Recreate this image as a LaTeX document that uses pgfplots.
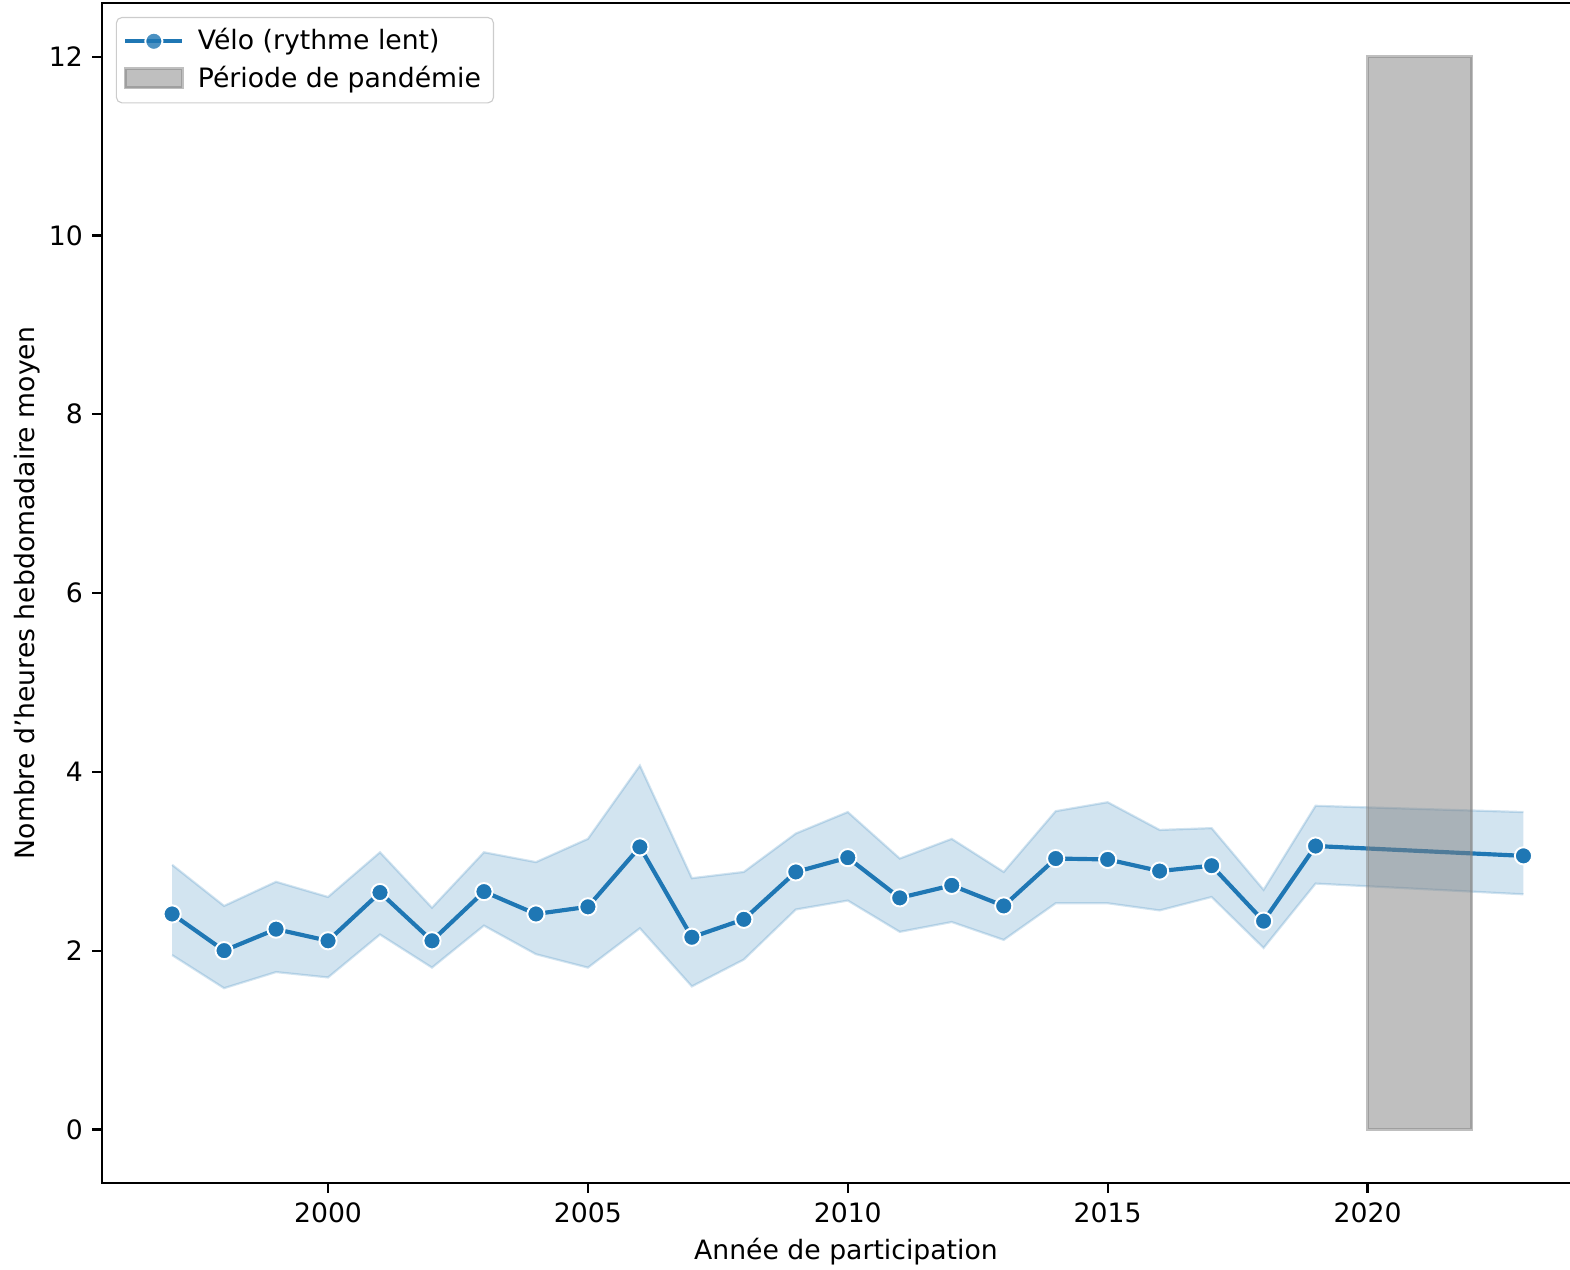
\documentclass[border=0pt]{standalone}
\usepackage{fontspec}
\setmainfont{DejaVu Sans}
\usepackage{pgfplots}
\usepackage{pgfplotstable}
\pgfplotsset{compat=1.18}
\usepgfplotslibrary{fillbetween}
\definecolor{c0}{HTML}{1F77B4}

% year, mean, lower and upper bound of the confidence band
\pgfplotstableread{
year mean lower upper
1997 2.41 1.95 2.96
1998 2.00 1.58 2.50
1999 2.24 1.76 2.77
2000 2.11 1.70 2.60
2001 2.65 2.18 3.10
2002 2.11 1.81 2.48
2003 2.66 2.28 3.10
2004 2.41 1.96 2.99
2005 2.49 1.81 3.25
2006 3.16 2.25 4.07
2007 2.15 1.60 2.81
2008 2.35 1.90 2.88
2009 2.88 2.46 3.31
2010 3.04 2.56 3.55
2011 2.59 2.21 3.03
2012 2.73 2.32 3.25
2013 2.50 2.12 2.88
2014 3.03 2.53 3.56
2015 3.02 2.53 3.66
2016 2.89 2.45 3.35
2017 2.95 2.60 3.37
2018 2.33 2.03 2.68
2019 3.17 2.75 3.62
2023 3.06 2.63 3.55
}\velo

\pgfplotsset{
  meanline legend/.style={legend image code/.code={
    \path[draw=none, fill=none] (0cm,0cm) rectangle (0.72cm+3.6pt,0cm);
    \draw[sharp corners, mark repeat=2, mark phase=2, ##1]
      plot coordinates {(0cm,0cm) (0.36cm,0cm) (0.72cm,0cm)};}},
  span legend/.style={legend image code/.code={
    \path[draw=none, fill=none] (0cm,0cm) rectangle (0.72cm+3.6pt,0cm);
    \draw[sharp corners, ##1] (0cm,-0.11cm) rectangle (0.72cm,0.13cm);}},
}

\begin{document}
\fontsize{9.6pt}{11.5pt}\selectfont
\begin{tikzpicture}
\begin{axis}[
  at={(0,0)}, anchor=south west,
  scale only axis, width=535.7pt, height=424.8pt,
  xmin=1995.65, xmax=2024.28, ymin=-0.6, ymax=12.6,
  xtick={2000,2005,2010,2015,2020},
  ytick={0,2,4,6,8,10,12},
  /pgf/number format/assume math mode=true,
  x tick label style={/pgf/number format/1000 sep={}},
  tick align=outside, tick pos=left,
  major tick length=3.5pt,
  every tick/.style={black, line width=0.8pt},
  axis line style={line width=0.8pt},
  xlabel={Année de participation},
  ylabel={Nombre d'heures hebdomadaire moyen},
  xlabel style={yshift=1pt},
  ylabel style={yshift=-3.5pt},
  legend cell align=left,
  legend style={at={(0,1)}, anchor=north west, xshift=5pt, yshift=-5pt,
    draw=black!20, rounded corners=2pt, fill=white, fill opacity=0.8,
    text opacity=1, inner xsep=2.5pt, inner ysep=2pt,
    row sep=0.5pt},
]
\addplot[name path=upper, draw=c0, draw opacity=0.2, line width=0.8pt, forget plot]
  table[x=year, y=upper] {\velo};
\addplot[name path=lower, draw=c0, draw opacity=0.2, line width=0.8pt, forget plot]
  table[x=year, y=lower] {\velo};
\addplot[fill=c0, fill opacity=0.2, draw=none, forget plot]
  fill between[of=upper and lower];

\addplot[c0, line width=1.5pt, mark=*, mark size=3.1pt,
  mark options={fill=c0, draw=white, line width=0.7pt}, meanline legend]
  table[x=year, y=mean] {\velo};

\addplot[fill=gray, fill opacity=0.5, draw=gray, draw opacity=0.5, line width=1pt,
  span legend]
  coordinates {(2020,0) (2020,12) (2022,12) (2022,0)} -- cycle;

\legend{Vélo (rythme lent), Période de pandémie}
\end{axis}
\pgfresetboundingbox
\path[use as bounding box] (-36.7pt,-31.3pt) rectangle (528.5pt,425.9pt);
\end{tikzpicture}
\end{document}
